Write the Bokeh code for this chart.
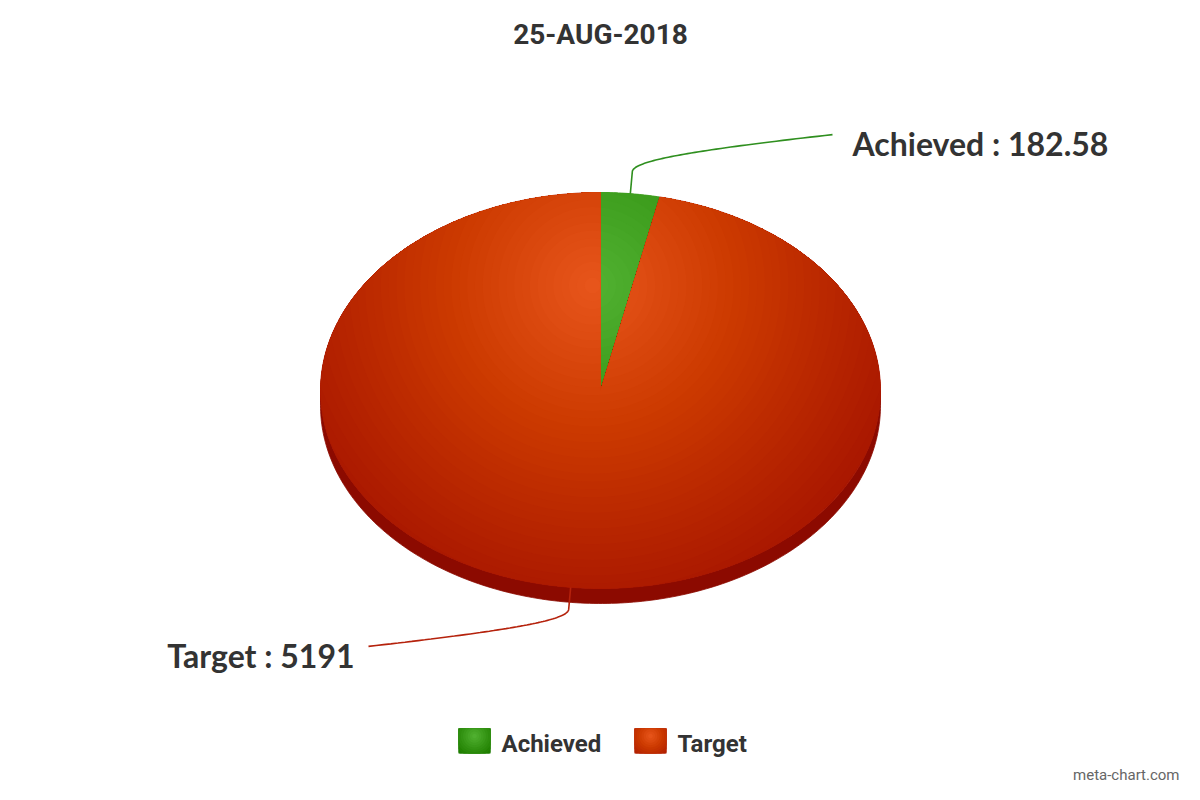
import numpy as np
from bokeh.plotting import figure
from bokeh.models import Range1d, ColumnDataSource
from bokeh.core.properties import value
from bokeh.embed import file_html
from bokeh.resources import INLINE

# data
categories = ["Achieved", "Target"]
values = [182.58, 5191]
chart_title = "25-AUG-2018"
credit = "meta-chart.com"

base_colors = [(82, 178, 50), (232, 86, 28)]
connector_colors = ["#2f8f1f", "#b5220c"]
side_color = "#8c0a00"
text_color = "#333333"

# pie geometry (page pixels, y down)
CX, CY = 600, 390
RX, RY = 280, 198
DEPTH = 15
FX, FY, FR = 592, 285, 392   # radial gradient focus / radius


def ell(theta, dy=0.0):
    return CX + RX * np.sin(theta), CY + dy - RY * np.cos(theta)


def shade(base, t):
    t = min(max(t, 0.0), 1.0)
    r, g, b = (int(max(0, c - 76.5 * t)) for c in base)
    return "#%02x%02x%02x" % (r, g, b)


def clip(subject, clip_poly):
    # Sutherland-Hodgman, clip_poly convex
    xs, ys = zip(*clip_poly)
    area = sum(xs[i] * ys[(i + 1) % len(xs)] - xs[(i + 1) % len(xs)] * ys[i] for i in range(len(xs)))
    s = 1 if area > 0 else -1
    out = list(subject)
    n = len(clip_poly)
    for i in range(n):
        if not out:
            break
        a = clip_poly[i]
        b = clip_poly[(i + 1) % n]

        def inside(p):
            return s * ((b[0] - a[0]) * (p[1] - a[1]) - (b[1] - a[1]) * (p[0] - a[0])) >= 0

        def inter(p, q):
            dx1, dy1 = q[0] - p[0], q[1] - p[1]
            dx2, dy2 = b[0] - a[0], b[1] - a[1]
            den = dx1 * dy2 - dy1 * dx2
            if den == 0:
                return q
            u = ((a[0] - p[0]) * dy2 - (a[1] - p[1]) * dx2) / den
            return (p[0] + u * dx1, p[1] + u * dy1)

        inp, out = out, []
        prev = inp[-1]
        for cur in inp:
            if inside(cur):
                if not inside(prev):
                    out.append(inter(prev, cur))
                out.append(cur)
            elif inside(prev):
                out.append(inter(prev, cur))
            prev = cur
    return out


def gradient_layers(poly, base, fx, fy, rad, n=50):
    xs, ys, cols = [], [], []
    far = max(np.hypot(px - fx, py - fy) for px, py in poly)
    ang = np.linspace(0, 2 * np.pi, 120, endpoint=False)
    started = False
    for k in range(n, 0, -1):
        r = rad * k / n
        if r > far:
            if started:
                continue
            clipped = list(poly)
            t = far / rad
        else:
            circ = list(zip(fx + r * np.cos(ang), fy + r * np.sin(ang)))
            clipped = clip(poly, circ)
            t = (k - 0.5) / n
        started = True
        if len(clipped) < 3:
            continue
        xs.append([q[0] for q in clipped])
        ys.append([q[1] for q in clipped])
        cols.append(shade(base, t))
    return xs, ys, cols


p = figure(width=1184, height=784, x_range=Range1d(0, 1184), y_range=Range1d(784, 0),
           output_backend="svg", toolbar_location=None, min_border=0,
           x_axis_type=None, y_axis_type=None)
p.grid.visible = False
p.outline_line_color = None
p.background_fill_color = "white"

total = float(sum(values))
starts = np.concatenate([[0.0], np.cumsum(values)[:-1]]) / total * 2 * np.pi
ends = np.cumsum(values) / total * 2 * np.pi

# side walls (front half only)
side_xs, side_ys = [], []
for a0, a1 in zip(starts, ends):
    lo, hi = max(a0, np.pi / 2), min(a1, 3 * np.pi / 2)
    if lo >= hi:
        continue
    th = np.linspace(lo, hi, 200)
    tx, ty = ell(th)
    bx, by = ell(th[::-1], DEPTH)
    side_xs.append(list(tx) + list(bx))
    side_ys.append(list(ty) + list(by))
p.patches(side_xs, side_ys, fill_color=side_color, line_color=side_color, line_width=0.8)

# top faces with radial gradient
for i, (a0, a1) in enumerate(zip(starts, ends)):
    steps = max(4, int(np.degrees(a1 - a0) * 2))
    th = np.linspace(a0, a1, steps)
    ax, ay = ell(th)
    poly = [(CX, CY)] + list(zip(ax, ay))
    xs, ys, cols = gradient_layers(poly, base_colors[i], FX, FY, FR)
    # outline of the whole slice to hide seams, layers themselves unstroked
    p.patch(xs[0], ys[0], fill_color=cols[0], line_color=cols[0], line_width=0.8)
    src = ColumnDataSource(dict(xs=xs[1:], ys=ys[1:], c=cols[1:]))
    p.patches("xs", "ys", source=src, fill_color="c", line_color=None)

# connectors and data labels
for i, (a0, a1) in enumerate(zip(starts, ends)):
    m = (a0 + a1) / 2
    sx, sy = ell(m)
    ss = 1 if np.sin(m) >= 0 else -1
    sc = 1 if np.cos(m) >= 0 else -1
    kx, ky = sx + ss * 2, sy - sc * 22
    ex, ey = CX + ss * 232, ky - sc * 37
    p1 = (kx + ss * 1, ky - sc * 10)
    p2 = (kx + ss * 48, ky - sc * 20)
    t = np.linspace(0, 1, 60)
    bx = (1 - t) ** 3 * kx + 3 * (1 - t) ** 2 * t * p1[0] + 3 * (1 - t) * t ** 2 * p2[0] + t ** 3 * ex
    by = (1 - t) ** 3 * ky + 3 * (1 - t) ** 2 * t * p1[1] + 3 * (1 - t) * t ** 2 * p2[1] + t ** 3 * ey
    p.line([sx] + list(bx), [sy] + list(by), line_color=connector_colors[i], line_width=1.6)
    label = "%s : %s" % (categories[i], "%g" % values[i])
    p.text([ex + (20 if ss > 0 else -14)], [ey + 9], text=[label],
           text_font=value("Lato"), text_font_style="bold", text_font_size="32px",
           text_color=text_color, text_align="left" if ss > 0 else "right",
           text_baseline="alphabetic")

# title
p.text([CX], [34], text=[chart_title], text_font=value("Roboto"), text_font_style="bold",
       text_font_size="28px", text_color=text_color, text_align="center",
       text_baseline="alphabetic")

# legend
leg_x = [458, 634]
for i, cat in enumerate(categories):
    x0, y0, w, h = leg_x[i], 728, 32, 25
    sq = [(x0, y0), (x0 + w, y0), (x0 + w, y0 + h), (x0, y0 + h)]
    xs, ys, cols = gradient_layers(sq, base_colors[i], x0 + w / 2, y0 + 0.3 * h, 1.0 * w, n=14)
    p.patches(xs, ys, fill_color=cols, line_color=None)
    p.text([x0 + w + 11], [743], text=[cat], text_font=value("Roboto"), text_font_style="bold",
           text_font_size="24px", text_color=text_color, text_align="left",
           text_baseline="alphabetic")

# credit
p.text([1179], [774], text=[credit], text_font=value("Roboto"), text_font_size="15px",
       text_color="#666666", text_align="right", text_baseline="alphabetic")

open("out.html", "w").write(file_html(p, INLINE))
